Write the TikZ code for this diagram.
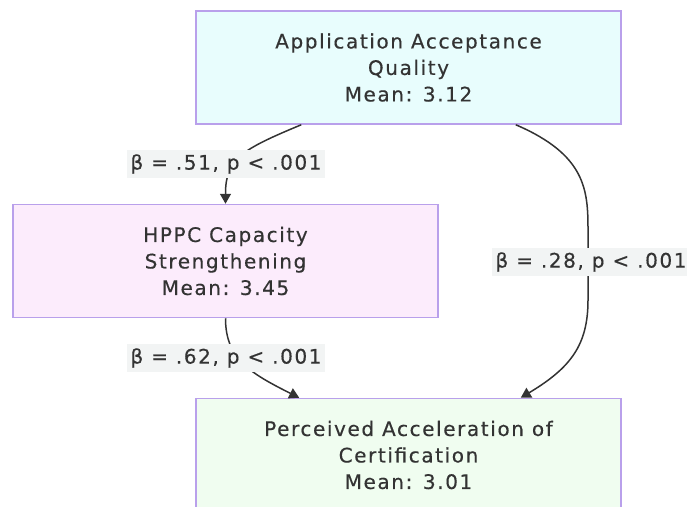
\documentclass[tikz,border=0pt]{standalone}
\usepackage{fontspec}
\setmainfont{DejaVu Sans}[LetterSpace=8,FakeBold=0.4]
\usetikzlibrary{arrows.meta}
\definecolor{boxline}{RGB}{185,160,235}
\definecolor{topfill}{RGB}{232,253,253}
\definecolor{midfill}{RGB}{252,236,252}
\definecolor{endfill}{RGB}{240,253,240}
\definecolor{lblfill}{RGB}{242,244,244}
\definecolor{ink}{RGB}{51,51,51}
\begin{document}
\begin{tikzpicture}[x=1pt,y=-1pt,
  box/.style={draw=boxline,line width=1.5pt,minimum width=425pt,minimum height=113pt,
    align=center,inner sep=0pt,text=ink,font=\fontsize{20}{26.5}\selectfont},
  lbl/.style={fill=lblfill,text=ink,inner xsep=3pt,inner ysep=4pt,font=\fontsize{20}{22}\selectfont},
  link/.style={draw=ink,line width=1.5pt,-{Triangle[length=10pt,width=11pt]}}]
\useasboundingbox (0,0) rectangle (687,506);

% boxes
\node[box,fill=topfill] (quality) at (408.5,67.5) {Application Acceptance\\Quality\\Mean: 3.12};
\node[box,fill=midfill] (hppc) at (225.5,261) {HPPC Capacity\\Strengthening\\Mean: 3.45};
\node[box,fill=endfill] (accel) at (408.5,455) {Perceived Acceleration of\\Certification\\Mean: 3.01};

% paths
\draw[link] ([xshift=106pt]quality.south west) .. controls +(-60,25) and +(0,-45) .. (hppc.north);
\draw[link] (hppc.south) .. controls +(0,40) and +(-50,-25) .. ([xshift=104pt]accel.north west);
\draw[link] ([xshift=-106pt]quality.south east) .. controls +(70,30) and +(0,-40) .. (588,230)
  -- (588,300) .. controls +(0,45) and +(50,-30) .. ([xshift=-101pt]accel.north east);

% coefficients
\node[lbl] (b1) at (226,164) {β = .51, p < .001};
\node[lbl] (b2) at (226,358) {β = .62, p < .001};
\node[lbl] (b3) at (591,262) {β = .28, p < .001};
\end{tikzpicture}
\end{document}
